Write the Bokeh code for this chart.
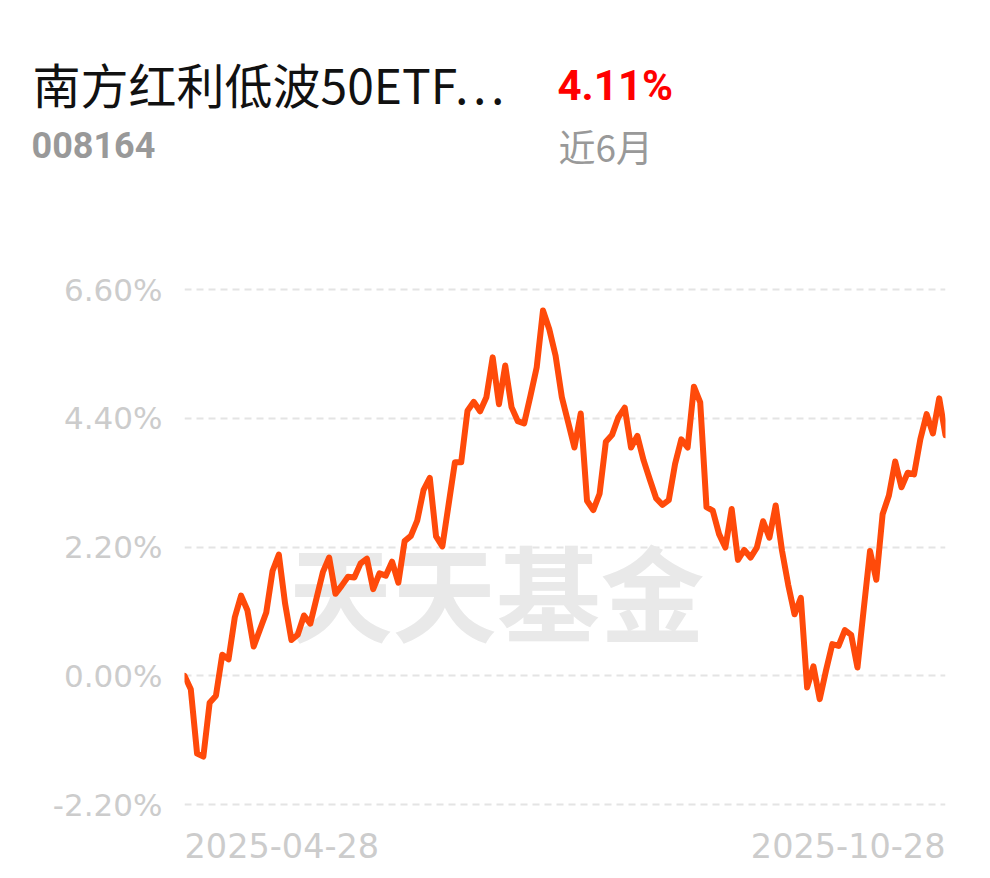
from bokeh.plotting import figure
from bokeh.models import Range1d, FixedTicker, Label, PrintfTickFormatter
from bokeh.embed import file_html
from bokeh.resources import INLINE

# ---------------- data ----------------
fund_name = "南方红利低波50ETF…"
fund_code = "008164"
period_return = "4.11%"
period_label = "近6月"
watermark_text = "天天基金"
date_labels = ["2025-04-28", "2025-10-28"]
y_ticks = [-2.2, 0.0, 2.2, 4.4, 6.6]

# trading-day index (0 = 2025-04-28 ... 121 = 2025-10-28)
day_index = list(range(122))
# cumulative return in %
returns = [
    0.00, -0.23, -1.33, -1.38, -0.46, -0.34, 0.36, 0.28, 1.00, 1.37,
    1.12, 0.50, 0.79, 1.08, 1.79, 2.07, 1.23, 0.61, 0.70, 1.03,
    0.89, 1.33, 1.77, 2.02, 1.40, 1.54, 1.69, 1.68, 1.92, 2.00,
    1.48, 1.75, 1.71, 1.95, 1.59, 2.30, 2.39, 2.65, 3.17, 3.38,
    2.38, 2.21, 2.93, 3.65, 3.65, 4.53, 4.68, 4.52, 4.76, 5.44,
    4.64, 5.30, 4.59, 4.35, 4.31, 4.78, 5.27, 6.24, 5.92, 5.47,
    4.76, 4.33, 3.90, 4.48, 2.99, 2.83, 3.11, 4.00, 4.12, 4.42,
    4.58, 3.90, 4.10, 3.68, 3.35, 3.03, 2.92, 3.00, 3.62, 4.04,
    3.90, 4.94, 4.67, 2.88, 2.82, 2.42, 2.19, 2.85, 1.98, 2.15,
    2.02, 2.19, 2.64, 2.36, 2.91, 2.14, 1.55, 1.05, 1.33, -0.20,
    0.16, -0.40, 0.09, 0.54, 0.51, 0.78, 0.70, 0.14, 1.14, 2.13,
    1.64, 2.76, 3.08, 3.66, 3.22, 3.47, 3.44, 4.04, 4.47, 4.14,
    4.74, 4.11,
]

# ---------------- layout (screen pixels) ----------------
W, H = 990, 878
HEAD_H = 240                     # header strip height
TOP_TICK_Y, BOT_TICK_Y = 289, 804  # screen y of 6.60% and -2.20% grid
FL, FR = 184, 945                # frame left / right

X0, X1 = day_index[0], day_index[-1]
Y_lo, Y_hi = y_ticks[0], y_ticks[-1]
per_px = (Y_hi - Y_lo) / (BOT_TICK_Y - TOP_TICK_Y)
y_end = Y_hi + (TOP_TICK_Y - HEAD_H) * per_px
y_start = Y_lo - (H - BOT_TICK_Y) * per_px

def dy(sy):
    return Y_hi - (sy - TOP_TICK_Y) * per_px

# ---------------- header ----------------
head = figure(width=W, height=HEAD_H, output_backend="svg",
              toolbar_location=None, title=None,
              x_range=Range1d(0, W), y_range=Range1d(HEAD_H, 0),
              min_border=0)
head.axis.visible = False
head.grid.visible = False
head.outline_line_color = None
head.background_fill_color = "white"
head.border_fill_color = "white"

head.add_layout(Label(x=32, y=82, text=fund_name,
                      text_font="Noto Sans CJK SC", text_font_size="48px",
                      text_color="#111111", text_align="left",
                      text_baseline="middle"))
head.add_layout(Label(x=557, y=85, text=period_return,
                      text_font="Roboto",
                      text_font_style="bold", text_font_size="42px",
                      text_color="#FF0000", text_align="left",
                      text_baseline="middle"))
head.add_layout(Label(x=31, y=144, text=fund_code,
                      text_font="Roboto",
                      text_font_style="bold", text_font_size="36px",
                      text_color="#999999", text_align="left",
                      text_baseline="middle"))
head.add_layout(Label(x=558, y=145, text=period_label,
                      text_font="Noto Sans CJK SC", text_font_size="37px",
                      text_color="#999999", text_align="left",
                      text_baseline="middle"))

# ---------------- chart ----------------
p = figure(width=W, height=H - HEAD_H, output_backend="svg",
           toolbar_location=None, title=None,
           x_range=Range1d(X0, X1), y_range=Range1d(y_start, y_end),
           min_border_left=FL, min_border_right=W - FR,
           min_border_top=0, min_border_bottom=0)
p.outline_line_color = None
p.background_fill_color = "white"
p.border_fill_color = "white"

p.xaxis.visible = False
p.xgrid.visible = False

ax = p.yaxis[0]
ax.ticker = FixedTicker(ticks=y_ticks)
ax.formatter = PrintfTickFormatter(format="%.2f%%")
ax.axis_line_color = None
ax.major_tick_line_color = None
ax.minor_tick_line_color = None
ax.major_tick_out = 0
ax.major_tick_in = 0
ax.major_label_standoff = 22
ax.major_label_text_font = "DejaVu Sans"
ax.major_label_text_font_size = "31px"
ax.major_label_text_color = "#CCCCCC"

p.ygrid.grid_line_color = "#E4E4E4"
p.ygrid.grid_line_dash = "7 5"
p.ygrid.grid_line_width = 2

# watermark under the line
p.add_layout(Label(x=X0 + (496 - FL) / (FR - FL) * (X1 - X0), y=dy(589),
                   text=watermark_text,
                   text_font="Noto Sans CJK SC", text_font_style="bold",
                   text_font_size="104px", text_color="#E9E9E9",
                   text_align="center", text_baseline="middle",
                   level="underlay"))

p.line(day_index, returns, line_color="#FF4A0A", line_width=6,
       line_join="round", line_cap="round")

# date labels at both ends of the x range
p.add_layout(Label(x=X0, y=dy(845), text=date_labels[0],
                   text_font="DejaVu Sans", text_font_size="33.5px",
                   text_color="#CCCCCC", text_align="left",
                   text_baseline="middle"))
p.add_layout(Label(x=X1, y=dy(845), text=date_labels[1],
                   text_font="DejaVu Sans", text_font_size="33.5px",
                   text_color="#CCCCCC", text_align="right",
                   text_baseline="middle"))

open("out.html", "w").write(file_html((head, p), INLINE))
